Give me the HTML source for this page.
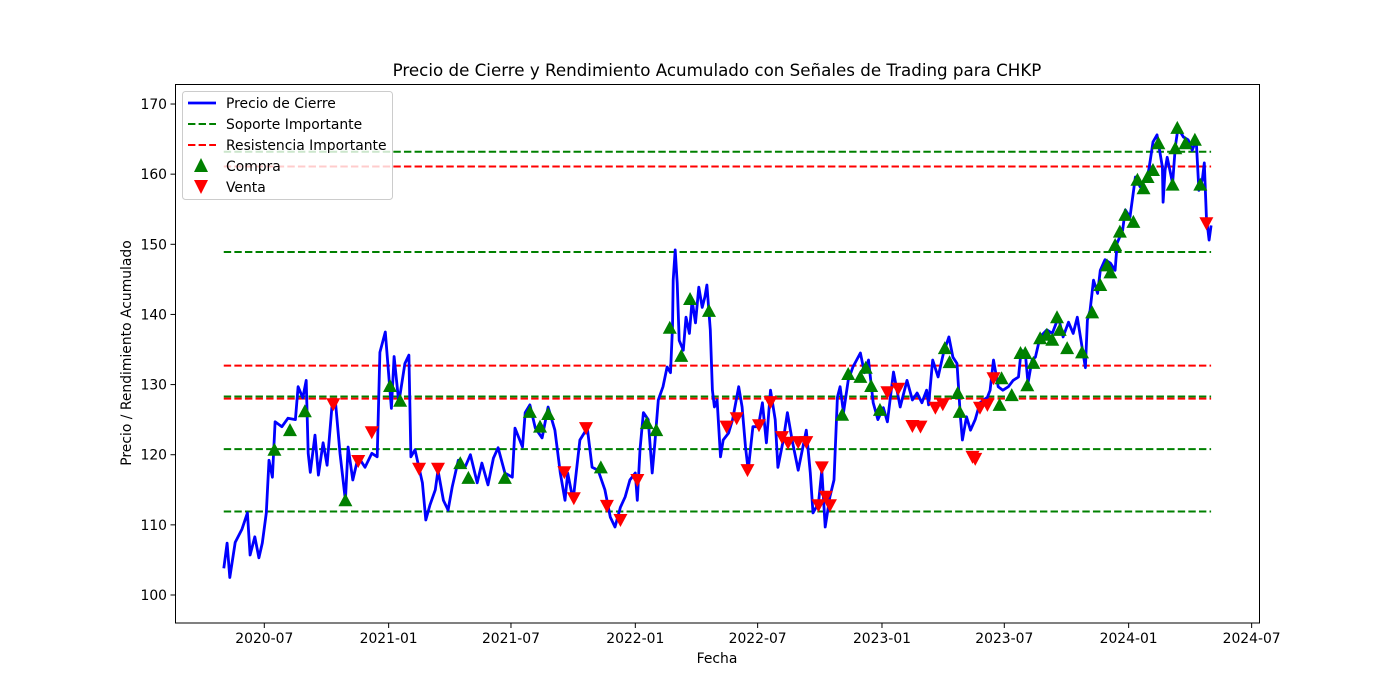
<!DOCTYPE html>
<html><head><meta charset="utf-8"><style>
html,body{margin:0;padding:0;background:#fff;}
svg{display:block;font-family:"DejaVu Sans","Liberation Sans",sans-serif;}
</style></head><body>
<svg id="chart" width="1400" height="700" viewBox="0 0 1400 700" xmlns="http://www.w3.org/2000/svg">
<rect x="0" y="0" width="1400" height="700" fill="#fff"/>
<text x="717" y="76" font-size="16.7" text-anchor="middle" fill="#000">Precio de Cierre y Rendimiento Acumulado con Señales de Trading para CHKP</text>
<g id="lines"></g>
<g id="price"></g>
<g id="markers"></g>
<rect x="175.5" y="84.5" width="1084" height="538.5" fill="none" stroke="#000" stroke-width="1"/>
<g id="axes"></g>
<text x="717" y="663" font-size="13.9" text-anchor="middle">Fecha</text>
<text transform="translate(131,353) rotate(-90)" font-size="13.9" text-anchor="middle">Precio / Rendimiento Acumulado</text>
<g>
<rect x="182.5" y="91.5" width="210" height="108" fill="#fff" fill-opacity="0.8" stroke="#ccc" rx="3"/>
<line x1="188" y1="103" x2="216" y2="103" stroke="#0000ff" stroke-width="2.8"/>
<text x="226" y="108" font-size="13.9">Precio de Cierre</text>
<line x1="188" y1="124" x2="216" y2="124" stroke="#008000" stroke-width="2" stroke-dasharray="7.4,3.2"/>
<text x="226" y="129" font-size="13.9">Soporte Importante</text>
<line x1="188" y1="145" x2="216" y2="145" stroke="#ff0000" stroke-width="2" stroke-dasharray="7.4,3.2"/>
<text x="226" y="150" font-size="13.9">Resistencia Importante</text>
<polygon points="201,158 208,172 194,172" fill="#008000"/>
<text x="226" y="171" font-size="13.9">Compra</text>
<polygon points="194,180 208,180 201,194" fill="#ff0000"/>
<text x="226" y="192" font-size="13.9">Venta</text>
</g>
</svg>
<script>
const startDate = "2020-05-01";
const supportLevels = [163.2, 148.9, 128.3, 120.8, 111.9];
const resistanceLevels = [161.1, 132.7, 128.0];
const yTicks = [100,110,120,130,140,150,160,170];
const xTickLabels = ["2020-07","2021-01","2021-07","2022-01","2022-07","2023-01","2023-07","2024-01","2024-07"];
const priceDays = [1,6,10,18,28,36,40,47,53,58,64,68,73,77,87,96,107,111,118,123,126,129,136,141,148,154,161,166,173,181,185,192,200,210,220,228,232,240,249,253,260,269,275,278,284,295,300,306,314,318,326,333,339,348,358,366,376,383,392,400,407,417,428,432,443,447,454,462,472,481,491,499,506,510,518,528,539,546,555,565,573,580,588,595,602,610,613,617,622,629,635,639,644,651,657,662,665,666,669,672,675,681,685,690,694,699,704,709,713,716,721,724,727,731,736,740,748,754,763,768,773,777,784,792,798,804,810,817,821,829,835,842,851,863,869,873,881,886,891,898,904,909,913,918,925,932,943,949,955,962,969,977,983,992,1002,1012,1020,1027,1034,1041,1044,1050,1058,1066,1074,1080,1086,1091,1094,1100,1106,1113,1120,1131,1135,1140,1147,1154,1162,1169,1177,1181,1187,1191,1197,1202,1209,1219,1227,1236,1243,1251,1258,1264,1271,1276,1279,1283,1288,1294,1298,1305,1313,1320,1323,1331,1335,1342,1350,1357,1368,1372,1376,1382,1390,1391,1394,1397,1405,1409,1413,1421,1428,1434,1440,1444,1449,1452,1455,1459,1462];
const prices = [103.8,107.4,102.5,107.5,109.4,111.7,105.7,108.3,105.3,107.4,111.7,119.2,116.8,124.7,124,125.2,125,129.7,128.1,130.6,120.2,117.5,122.8,117.1,121.7,118.5,126.8,127.8,120.2,113.5,121.1,116.4,119.7,118.2,120.2,119.7,134.6,137.5,126.6,134,127.4,133,134.2,119.7,120.7,116,110.7,112.8,115,117.8,113.5,112.1,115.4,119.2,118.2,120,116,118.8,115.7,119.5,121,117.4,116.8,123.8,121.1,126,127.1,123.8,122.4,126.8,123.5,117.4,113.5,117.4,113.5,122.1,123.8,118.2,117.8,115,111.1,109.7,112.5,114,116.4,117.4,113.5,120.7,126,125,117.4,121.7,127.8,129.7,132.5,131.7,138.2,144.9,149.2,144.5,136.3,134.9,139.6,137.3,142,138.8,143.9,141,142.5,144.2,137.8,129.2,126.8,127.8,119.7,122.1,123.1,125,129.7,126.8,121.1,117.8,124,124,127.4,121.7,129.2,125,118.2,122.1,126,122.1,117.8,123.5,117.4,111.7,113.1,117.8,109.7,114,116.4,128.2,129.7,126,130.6,132.5,134.5,131.7,133.5,127.4,125,126.7,124.7,131.8,126.8,130.6,127.8,128.8,127.4,129.2,127.1,133.5,131.1,134.5,136.8,133.9,133,125.4,122.1,125.4,123.5,125,127.4,128.2,129.2,133.5,129.7,129.2,129.7,130.6,131.1,134.9,134.5,130.2,133.5,133.9,136.8,137.8,137.3,139.6,136.8,138.9,137.3,139.6,135.4,132.4,139.2,140.6,144.9,143,146.3,147.8,147.3,146.3,150.2,152,154.9,153.9,159.6,158.2,159.6,162,164.6,165.6,161,156,160.6,162.4,158.7,163.9,166.6,165.3,164.9,163.4,164.9,157.7,159.2,161.6,153.9,150.6,152.7];
const buyDays = [76,99,121,181,247,262,351,363,417,454,469,481,559,627,641,661,678,691,719,916,925,943,951,959,972,1068,1075,1087,1090,1149,1152,1167,1180,1187,1190,1199,1209,1219,1227,1234,1238,1249,1271,1286,1298,1308,1313,1320,1327,1335,1347,1353,1362,1368,1376,1384,1405,1409,1412,1424,1438,1446];
const buyPrices = [120.7,123.5,126.2,113.5,129.8,127.7,118.8,116.7,116.7,126.1,124.0,125.8,118.2,124.5,123.5,138.1,134.1,142.2,140.5,125.7,131.5,131.1,132.4,129.8,126.4,135.2,133.2,128.8,126.1,127.1,130.9,128.5,134.5,134.5,129.9,133.1,136.6,137.1,136.4,139.6,137.8,135.2,134.6,140.3,144.2,147.0,146.0,149.9,151.8,154.2,153.2,159.2,158.0,159.6,160.6,164.4,158.5,163.7,166.6,164.4,164.9,158.5];
const sellDays = [163,200,220,290,318,505,519,537,568,588,613,745,760,776,793,810,827,836,851,863,881,886,892,898,983,999,1020,1032,1054,1065,1109,1113,1120,1131,1140,1455];
const sellPrices = [127.2,119.1,123.2,118.0,118.0,117.5,113.8,123.8,112.7,110.7,116.4,124.0,125.2,117.8,124.2,127.5,122.5,121.7,121.8,121.8,112.8,118.2,114.0,112.8,128.9,129.4,124.1,124.0,126.7,127.2,119.7,119.4,126.7,127.1,130.9,153.0];

const NS = "http://www.w3.org/2000/svg";
const DAY = 86400000;
const t0 = Date.parse(startDate + "T00:00:00Z");
const tick0 = Date.parse("2020-07-01T00:00:00Z");
function xScale(dayOffset){ const t = t0 + dayOffset*DAY; return 264.3 + (t - tick0)/DAY * 0.6758; }
function xDate(str){ return 264.3 + (Date.parse(str+"-01T00:00:00Z") - tick0)/DAY * 0.6758; }
function yScale(v){ return 595 - (v-100)*7.014; }
function mk(tag, attrs, parent){ const e=document.createElementNS(NS,tag); for(const k in attrs) e.setAttribute(k,attrs[k]); parent.appendChild(e); return e; }

const lines = document.getElementById('lines');
const xMin = xScale(priceDays[0]), xMax = xScale(priceDays[priceDays.length-1]);
supportLevels.forEach(v=>{
  const l = mk('line',{x1:xMin,x2:xMax,y1:yScale(v),y2:yScale(v),stroke:'#008000','stroke-width':2,'stroke-dasharray':'7.4,3.2'},lines);
  
  
});
resistanceLevels.forEach(v=>{
  const l = mk('line',{x1:xMin,x2:xMax,y1:yScale(v),y2:yScale(v),stroke:'#ff0000','stroke-width':2,'stroke-dasharray':'7.4,3.2'},lines);
  
  
});

const pts = priceDays.map((d,i)=>xScale(d).toFixed(1)+','+yScale(prices[i]).toFixed(1)).join(' ');
const pl = mk('polyline',{points:pts,fill:'none',stroke:'#0000ff','stroke-width':2.8,'stroke-linejoin':'round'},document.getElementById('price'));



const mg = document.getElementById('markers');
buyDays.forEach((d,i)=>{
  const x=xScale(d), y=yScale(buyPrices[i]);
  const p = mk('polygon',{points:`${x},${y-7} ${x+7},${y+6} ${x-7},${y+6}`,fill:'#008000'},mg);
  
  
});
sellDays.forEach((d,i)=>{
  const x=xScale(d), y=yScale(sellPrices[i]);
  const p = mk('polygon',{points:`${x-7},${y-6} ${x+7},${y-6} ${x},${y+7}`,fill:'#ff0000'},mg);
  
  
});

const ax = document.getElementById('axes');
yTicks.forEach(v=>{
  const y=yScale(v);
  mk('line',{x1:170.5,x2:175.5,y1:y,y2:y,stroke:'#000'},ax);
  const t = mk('text',{x:167,y:y+5,'font-size':13.9,'text-anchor':'end'},ax);
  t.textContent = v;
  
  
});
xTickLabels.forEach(s=>{
  const x=xDate(s);
  mk('line',{x1:x,x2:x,y1:623,y2:628,stroke:'#000'},ax);
  const t = mk('text',{x:x,y:643,'font-size':13.9,'text-anchor':'middle'},ax);
  t.textContent = s;
  
  
});
</script>
</body></html>
